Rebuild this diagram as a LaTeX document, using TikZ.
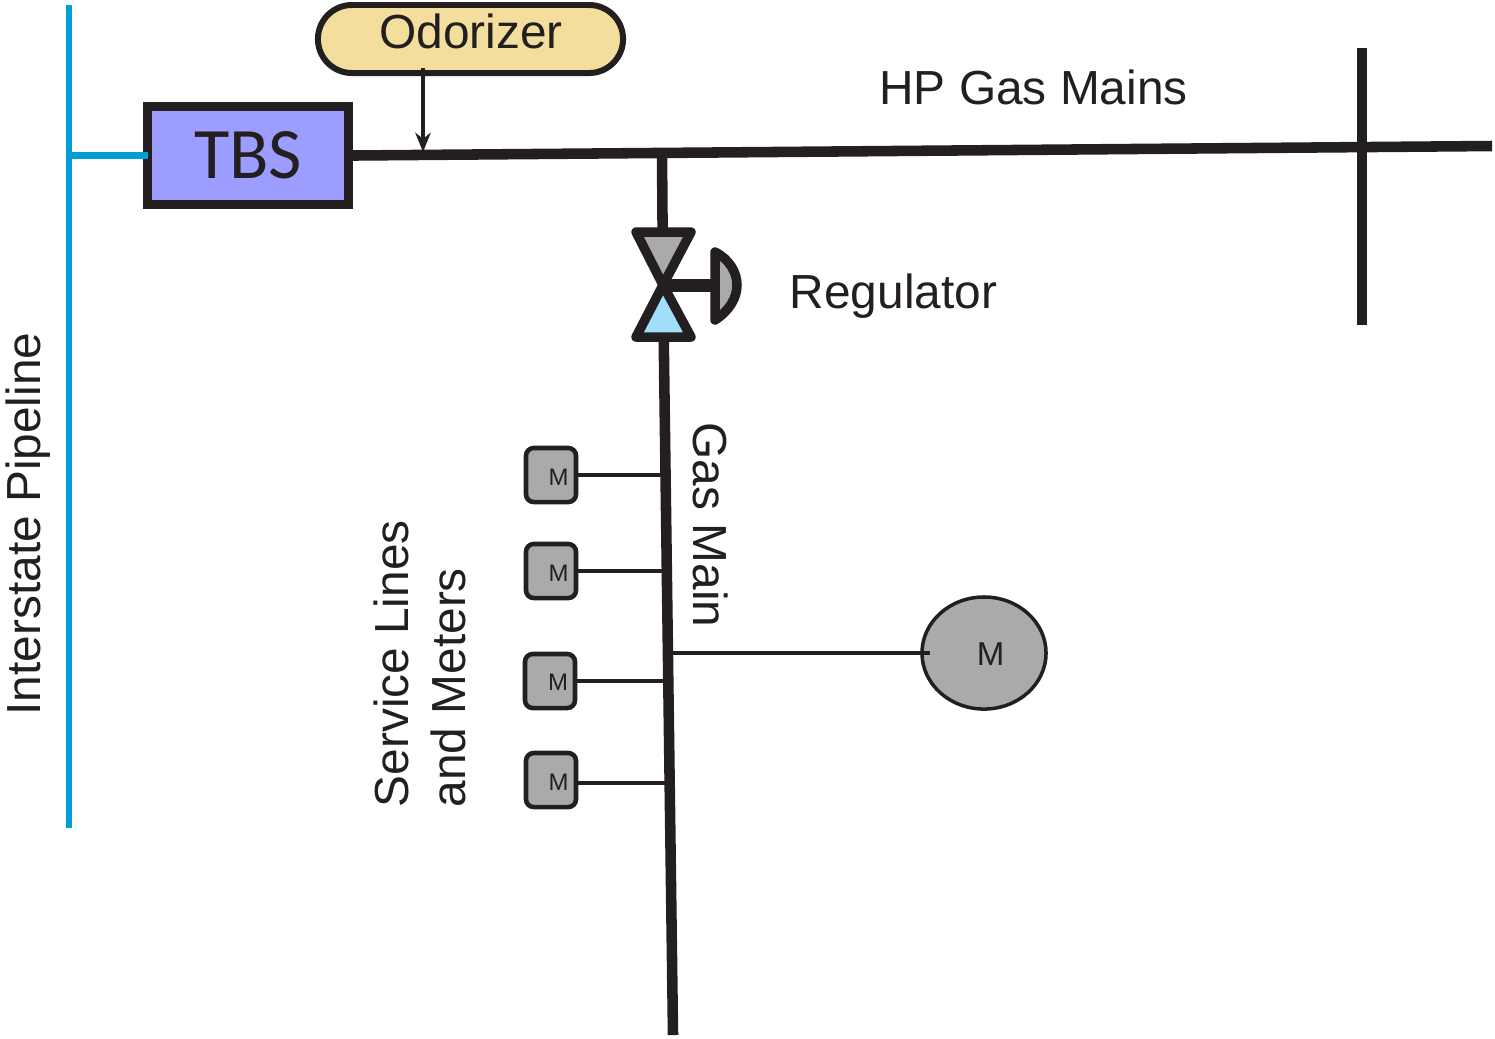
\documentclass[tikz,border=0pt]{standalone}
\usepackage{fontspec}
\setmainfont{Liberation Sans}
\newfontfamily\tbsfont{Carlito}
\usetikzlibrary{arrows.meta, shapes.geometric, calc}
\definecolor{cInk}{RGB}{35,31,32}
\definecolor{cPipe}{RGB}{0,160,214}
\definecolor{cFillTbs}{RGB}{157,157,255}
\definecolor{cFillOdor}{RGB}{243,222,157}
\definecolor{cFillGray}{RGB}{170,170,172}
\definecolor{cFillBlue}{RGB}{160,222,250}
\tikzset{
  x=0.01cm, y=-0.01cm,
  lbl/.style={font=\fontsize{13.6pt}{16.2pt}\selectfont, text=cInk, align=left, inner sep=0pt},
  mainln/.style={draw=cInk, line width=3pt},
  svcln/.style={draw=cInk, line width=1pt},
  meter/.style={draw=cInk, fill=cFillGray, line width=1.3pt, rounded corners=2.2pt,
                minimum width=0.5cm, minimum height=0.54cm, inner sep=0pt},
  mtxt/.style={font=\fontsize{6.8pt}{8pt}\selectfont, text=cInk, inner sep=0pt},
  vlv/.style={draw=cInk, line width=2.7pt, line join=round},
}

\begin{document}
\begin{tikzpicture}
\useasboundingbox (0,0) rectangle (1495,1038);

%% ============================================================
%% JUNCTIONS
%% ============================================================
\coordinate (pipetop) at (69,5);
\coordinate (pipebot) at (69,828);
\coordinate (pipetap) at (69,155.5);
\coordinate (hpend)   at (1492,146);
\coordinate (hptee)   at (662,153);
\coordinate (odortap) at (423,152);
\coordinate (crosstop) at (1362,48);
\coordinate (crossbot) at (1362,325);
\coordinate (valve)   at (663,285);
\coordinate (mainbot) at (673,1035);

%% ============================================================
%% BOXES
%% ============================================================
\node[draw=cInk, fill=cFillTbs, line width=2.6pt, minimum width=2.01cm, minimum height=0.98cm,
      inner sep=0pt, font=\tbsfont\fontsize{20.6pt}{21pt}\selectfont, text=cInk]
  (tbs) at (248,155.5) {TBS};

\node[draw=cInk, fill=cFillOdor, line width=1.7pt, minimum width=3.05cm, minimum height=0.68cm,
      rounded corners=0.34cm, inner sep=0pt]
  (odorizer) at (470.5,39) {};
\node[lbl] (odorlbl) at (471,31) {Odorizer};

%% ============================================================
%% PIPES
%% ============================================================
\draw[cPipe, line width=1.9pt] (pipetop) -- (pipebot);
\draw[cPipe, line width=1.9pt] (pipetap) -- ($(tbs.west)+(5,0)$);

\draw[mainln] (tbs.east) -- (hpend);
\draw[mainln] (crosstop) -- (crossbot);
\draw[mainln] (hptee) -- (valve);
\draw[mainln] (valve) -- (mainbot);

% odorizer feed
\draw[-{Stealth[length=5.5pt,width=4.4pt]}, cInk, line width=1.1pt]
  ($(odorizer.south -| odortap)+(0,-8)$) -- (odortap);

%% ============================================================
%% REGULATOR
%% ============================================================
\draw[vlv, fill=cFillGray] (636,232) -- (691,232) -- (valve) -- cycle;
\draw[vlv, fill=cFillBlue] (636,337) -- (691,337) -- (valve) -- cycle;
\draw[cInk, line width=3.7pt] (valve) -- ++(54,0) coordinate (stemend);
\draw[vlv, fill=cFillGray]
  (715,252) .. controls (729,259) and (737,272) .. (737,285)
  .. controls (737,298) and (729,311) .. (715,320) -- cycle;

%% ============================================================
%% METERS
%% ============================================================
\foreach \nm/\yy in {ma/475, mb/571, md/780}{
  \node[meter] (\nm) at (551,\yy) {};
  \node[mtxt] (\nm txt) at (558.5,\yy+2) {M};
}
\node[meter] (mc) at (550,681) {};
\node[mtxt] (mctxt) at (558,682) {M};

\coordinate (matap) at (664,475);
\coordinate (mbtap) at (665,571);
\coordinate (mctap) at (666,681);
\coordinate (mdtap) at (667,783);
\draw[svcln] (ma.east |- matap) -- (matap);
\draw[svcln] (mb.east |- mbtap) -- (mbtap);
\draw[svcln] (mc.east |- mctap) -- (mctap);
\draw[svcln] (md.east |- mdtap) -- (mdtap);

\node[ellipse, draw=cInk, fill=cFillGray, line width=1pt, minimum width=1.24cm, minimum height=1.12cm,
      inner sep=0pt] (mbig) at (984,653) {};
\node[font=\fontsize{9.4pt}{11pt}\selectfont, text=cInk, inner sep=0pt] (mbigtxt) at (990.5,654) {M};
\coordinate (mbigtap) at (668,653);
\draw[svcln] (mbigtap) -- (930,653);

%% ============================================================
%% LABELS
%% ============================================================
\node[lbl] (hplbl) at (1033.5,87) {HP Gas Mains};
\node[lbl, anchor=west] (reglbl) at (789,296) {Regulator};
\node[lbl, rotate=90] (pipelbl) at (28,524) {Interstate Pipeline};
\node[lbl, rotate=-90] (gaslbl) at (711,525) {Gas Main};
\node[lbl, rotate=90, anchor=north west] (svclbl) at (373,808) {Service Lines\\and Meters};

\end{tikzpicture}
\end{document}
